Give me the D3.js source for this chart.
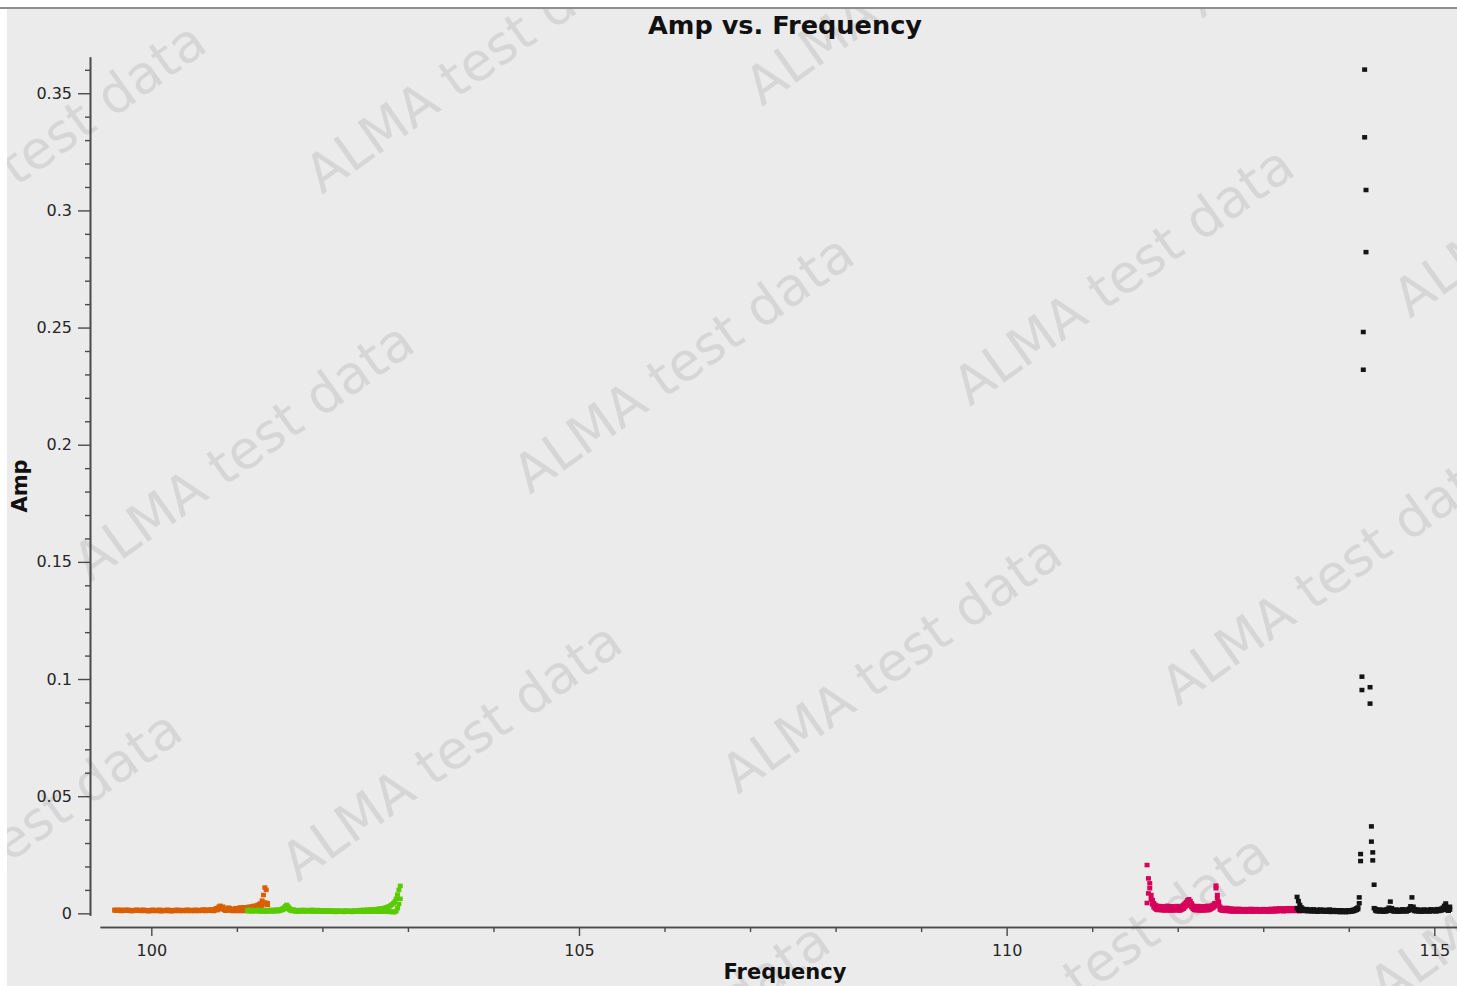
<!DOCTYPE html>
<html>
<head>
<meta charset="utf-8">
<script src="https://cdn.jsdelivr.net/npm/d3@7/dist/d3.min.js"></script>
<style>
  html, body { margin: 0; padding: 0; background: #ffffff; }
  svg { display: block; }
  text { font-family: "DejaVu Sans", sans-serif; }
</style>
</head>
<body>
<svg id="chart" width="1457" height="986"></svg>
<script>
// Amplitude vs. frequency, four spectral windows, two correlations each.
// Amplitudes are listed in units of 1e-3.
const ampScale = 1e-3;

const spwNames = ["0", "1", "2", "3"];
const spwColors = ["#d95f02", "#5acb00", "#d6005a", "#141414"];
const spwFirstChanGHz = [99.5733, 101.1248, 111.6416, 113.3955];
const chanWidthGHz = 0.0158;

const amp0XX = [
  1.5,1.3,1.4,1.2,1.5,1.4,1.1,1.3,1.5,1.4,
  1.2,1.4,1.3,1.0,1.2,1.4,1.5,1.3,1.2,1.4,
  1.3,1.5,1.4,1.2,1.3,1.1,1.3,1.4,1.5,1.3,
  1.2,1.4,1.3,1.5,1.2,1.3,1.4,1.2,1.3,1.5,
  1.4,1.2,1.1,1.3,1.4,1.3,1.5,1.4,1.2,1.3,
  1.4,1.3,1.2,1.4,1.5,1.3,1.4,1.2,1.3,1.4,
  1.5,1.3,1.2,1.4,1.3,1.5,1.6,1.4,1.3,1.5,
  1.4,1.6,1.5,1.3,1.7,2.2,2.0,2.8,3.2,2.6,
  2.8,2.0,1.4,1.8,2.4,2.2,1.6,1.3,1.8,2.1,
  2.2,1.9,2.3,2.5,2.2,2.4,2.6,2.3,2.5,2.7,
  2.8,2.6,3.0,3.2,2.9,3.3,3.6,3.9,4.3,5.4,
  7.8,11.0,10.0,4.3
];
const amp0YY = [
  1.2,1.4,1.1,1.3,1.2,1.0,1.3,1.2,1.1,1.3,
  1.4,1.1,1.0,1.2,1.3,1.1,1.2,1.4,1.1,1.2,
  1.0,1.2,1.1,1.3,1.0,0.9,1.1,1.2,1.0,1.2,
  1.1,1.0,1.2,1.1,0.9,1.0,1.2,1.1,1.0,1.2,
  1.1,1.0,0.9,1.1,1.2,1.0,1.1,1.2,1.0,1.1,
  1.0,1.2,1.1,1.0,1.2,1.1,1.0,1.1,1.2,1.0,
  1.1,1.2,1.0,1.1,1.3,1.1,1.2,1.0,1.1,1.2,
  1.1,1.3,1.2,1.0,1.3,1.5,1.4,1.9,2.2,1.8,
  2.0,1.5,1.1,1.3,1.6,1.5,1.2,1.0,1.1,1.2,
  1.0,1.1,1.2,1.0,1.1,1.2,1.0,1.1,1.3,1.2,
  1.4,1.3,1.6,1.8,1.7,2.0,2.2,2.5,2.8,3.4,
  4.3,4.6,4.4,3.6
];

const amp1XX = [
  1.4,1.2,1.5,1.3,1.1,1.4,1.2,1.3,1.5,1.2,
  1.0,1.3,1.1,1.4,1.2,1.0,1.3,1.5,1.2,1.1,
  1.3,1.6,1.4,1.2,1.5,1.7,2.0,2.4,3.0,3.6,
  2.9,2.2,1.7,1.4,1.6,1.3,1.1,1.4,1.2,1.0,
  1.3,1.5,1.2,1.0,1.3,1.4,1.1,1.2,1.5,1.3,
  1.0,1.2,1.4,1.1,0.9,1.2,1.3,1.0,1.1,1.3,
  1.2,0.9,1.0,1.2,1.1,0.8,1.0,1.2,0.9,1.1,
  1.0,0.8,1.1,1.2,0.9,1.0,1.1,0.8,1.0,1.2,
  1.1,0.9,1.2,1.4,1.1,1.3,1.5,1.2,1.4,1.6,
  1.3,1.5,1.7,1.4,1.6,1.8,1.7,1.9,2.0,1.9,
  2.1,2.2,2.4,2.6,2.8,3.0,3.4,3.8,4.3,5.0,
  6.2,8.0,10.0,11.7
];
const amp1YY = [
  1.0,0.9,1.1,0.8,1.0,1.2,0.9,1.0,1.1,0.8,
  0.9,1.1,0.8,1.0,0.9,0.8,1.0,1.1,0.9,0.8,
  1.0,1.1,0.9,1.0,1.2,1.3,1.5,1.8,2.2,2.5,
  2.1,1.6,1.2,1.0,1.1,0.9,0.8,1.0,0.9,0.8,
  1.0,1.1,0.9,0.8,1.0,1.1,0.9,0.8,1.0,0.9,
  0.8,0.9,1.0,0.8,0.7,0.9,1.0,0.8,0.7,0.9,
  0.8,0.7,0.8,0.9,0.7,0.6,0.8,0.9,0.7,0.8,
  0.7,0.6,0.8,0.9,0.7,0.8,0.7,0.6,0.8,0.9,
  0.8,0.7,0.9,1.0,0.8,0.9,0.7,0.8,1.0,0.9,
  0.8,0.7,0.9,0.8,1.0,0.9,0.8,0.7,0.9,0.8,
  0.8,0.9,0.7,0.8,1.0,0.6,0.8,0.6,0.5,0.6,
  1.0,2.2,4.0,6.2
];

const amp2XX = [
  20.6,14.9,12.8,7.8,5.7,4.3,3.6,3.2,2.9,3.1,
  2.7,3.0,2.8,2.5,2.9,3.2,2.8,2.6,3.0,2.7,
  2.4,2.8,3.1,2.7,2.5,2.9,3.2,3.6,4.2,4.8,
  5.6,6.0,5.2,4.2,3.3,2.8,2.5,2.9,3.1,2.7,
  2.4,2.8,3.0,2.6,2.9,3.2,2.8,3.0,3.3,3.6,
  4.3,11.8,7.8,5.0,2.8,2.3,2.1,2.2,2.0,2.3,
  2.1,1.9,2.0,1.7,1.9,1.8,1.6,1.8,1.9,1.7,
  1.6,1.8,1.7,1.5,1.8,1.6,1.7,1.9,1.6,1.5,
  1.7,1.8,1.6,1.5,1.7,1.6,1.8,1.7,1.5,1.6,
  1.8,1.7,1.9,1.6,1.8,2.0,1.7,1.9,2.1,1.8,
  2.0,1.9,2.1,1.8,2.0,2.2,1.9,2.1,2.0,2.2,
  1.9,2.1,2.0,1.8
];
const amp2YY = [
  4.4,8.5,10.7,6.0,3.8,2.6,2.0,1.6,1.4,1.7,
  1.5,1.3,1.6,1.2,1.4,1.7,1.3,1.2,1.5,1.4,
  1.2,1.5,1.6,1.3,1.2,1.4,1.7,2.0,2.6,3.2,
  3.8,4.2,3.5,2.6,1.9,1.5,1.3,1.6,1.4,1.2,
  1.3,1.5,1.2,1.4,1.6,1.3,1.5,1.8,2.1,2.5,
  3.0,10.7,6.4,3.6,1.6,1.3,1.1,1.2,1.0,1.2,
  1.1,0.9,1.0,0.8,1.0,0.9,0.8,1.0,0.9,0.8,
  0.9,1.0,0.8,0.7,0.9,0.8,1.0,0.9,0.7,0.8,
  0.9,1.0,0.8,0.9,0.7,0.8,1.0,0.9,0.8,0.7,
  0.9,0.8,1.0,0.9,0.8,1.1,0.9,1.0,1.2,1.0,
  1.1,0.9,1.2,1.0,1.1,1.3,1.0,1.2,1.1,1.3,
  1.0,1.2,1.1,0.9
];

// Channels 52 and 53 of spw 3 are flagged (null).
const amp3XX = [
  7.0,5.2,3.6,2.6,2.0,1.7,1.5,1.8,1.4,1.6,
  1.3,1.5,1.7,1.4,1.2,1.5,1.3,1.6,1.4,1.2,
  1.5,1.3,1.1,1.4,1.6,1.3,1.2,1.4,1.1,1.3,
  1.2,1.0,1.3,1.1,0.9,1.2,1.0,1.1,1.3,1.0,
  1.2,1.4,1.5,1.8,2.1,2.5,6.8,25.3,101.0,248.1,
  360.1,308.7,null,null,96.5,37.1,26.0,12.2,1.9,1.5,
  1.3,1.6,1.4,1.2,1.5,1.3,1.6,1.8,2.4,5.0,
  2.2,1.5,1.3,1.6,1.4,1.2,1.5,1.3,1.7,1.4,
  1.6,1.3,1.5,2.0,3.0,6.8,2.8,1.8,1.4,1.6,
  1.3,1.5,1.2,1.4,1.6,1.3,1.5,1.2,1.4,1.7,
  1.5,1.3,1.6,1.4,1.8,1.5,1.7,2.0,2.4,3.2,
  4.2,2.6,1.9,2.8
];
const amp3YY = [
  2.2,1.4,1.2,1.5,1.1,1.3,1.0,1.2,0.9,1.1,
  1.0,0.8,1.1,0.9,1.0,0.7,0.9,1.1,0.8,1.0,
  0.9,0.7,1.0,0.8,0.9,0.6,0.8,0.7,0.9,0.6,
  0.8,0.7,0.5,0.8,0.6,0.7,0.5,0.8,0.6,0.7,
  0.8,0.9,1.0,1.2,1.5,1.8,4.3,22.3,95.3,232.0,
  331.2,282.2,null,null,89.5,30.6,22.6,2.2,1.2,0.9,
  1.0,0.8,1.1,0.9,0.7,1.0,0.8,1.1,1.3,2.0,
  1.2,0.9,0.8,1.0,0.9,0.7,1.0,0.8,1.1,0.9,
  1.0,0.8,1.1,1.3,1.6,2.4,1.5,1.0,0.9,1.1,
  0.8,1.0,0.7,0.9,1.1,0.8,1.0,0.9,0.8,1.1,
  0.9,1.0,1.2,0.8,1.1,1.0,1.2,1.3,1.5,1.8,
  2.0,1.4,1.1,1.6
];

const spwAmps = [[amp0XX, amp0YY], [amp1XX, amp1YY], [amp2XX, amp2YY], [amp3XX, amp3YY]];

const yMajorTicks = [0, 0.05, 0.1, 0.15, 0.2, 0.25, 0.3, 0.35];
const yMinorTicks = [0.01,0.02,0.03,0.04,0.06,0.07,0.08,0.09,0.11,0.12,0.13,0.14,
                     0.16,0.17,0.18,0.19,0.21,0.22,0.23,0.24,0.26,0.27,0.28,0.29,
                     0.31,0.32,0.33,0.34,0.36];
const xMajorTicks = [100, 105, 110, 115];
const xMinorTicks = [101,102,103,104,106,107,108,109,111,112,113,114];

const titleText = "Amp vs. Frequency";
const xLabelText = "Frequency";
const yLabelText = "Amp";
const watermarkText = "ALMA test data";

// ---- drawing ----
const W = 1457, H = 986;
const svg = d3.select("#chart");

const x = d3.scaleLinear().domain([99.40, 115.27]).range([100, 1457.4]);
const y = d3.scaleLinear().domain([-0.0008, 0.3656]).range([915.2, 56.7]);

// panel background and top rule
const panel = { x: 7, y: 8, w: W - 7, h: H - 8 };
svg.append("rect").attr("x", panel.x).attr("y", panel.y)
  .attr("width", panel.w).attr("height", panel.h).attr("fill", "#ebebeb");
svg.append("line").attr("x1", 0).attr("x2", W).attr("y1", 8).attr("y2", 8)
  .attr("stroke", "#8e8e8e").attr("stroke-width", 2);

svg.append("clipPath").attr("id", "panelClip").append("rect")
  .attr("x", panel.x).attr("y", panel.y + 1).attr("width", panel.w).attr("height", panel.h);

// repeating watermark lattice
const wm = svg.append("g").attr("clip-path", "url(#panelClip)");
const wmOrigin = [694, 378], wmA = [440, -88], wmB = [208, 300];
for (let i = -4; i <= 4; i++) {
  for (let j = -4; j <= 4; j++) {
    const cx = wmOrigin[0] + i * wmA[0] + j * wmB[0];
    const cy = wmOrigin[1] + i * wmA[1] + j * wmB[1];
    if (cx < -300 || cx > W + 300 || cy < -250 || cy > H + 250) continue;
    wm.append("text")
      .attr("transform", `translate(${cx},${cy}) rotate(-35.5)`)
      .attr("text-anchor", "middle")
      .attr("font-size", 53)
      .attr("fill", "#d6d6d6")
      .text(watermarkText);
  }
}

// axes
const axisColor = "#4a4a4a";
function styleAxis(g) {
  g.selectAll("path.domain").attr("stroke", axisColor).attr("stroke-width", 1.6);
  g.selectAll(".tick line").attr("stroke", axisColor).attr("stroke-width", 1.4);
  g.selectAll(".tick text").attr("fill", "#262626")
    .attr("font-size", 16).attr("font-family", "DejaVu Sans, sans-serif");
}

const yAxisX = 90, xAxisY = 927;

svg.append("g").attr("transform", `translate(${yAxisX},0)`)
  .call(d3.axisLeft(y).tickValues(yMinorTicks).tickSize(5).tickSizeOuter(0).tickFormat(""))
  .call(styleAxis);
svg.append("g").attr("transform", `translate(${yAxisX},0)`)
  .call(d3.axisLeft(y).tickValues(yMajorTicks).tickSize(12).tickSizeOuter(0)
        .tickPadding(6).tickFormat(d3.format("~g")))
  .call(styleAxis);

svg.append("g").attr("transform", `translate(0,${xAxisY})`)
  .call(d3.axisBottom(x).tickValues(xMinorTicks).tickSize(5).tickSizeOuter(0).tickFormat(""))
  .call(styleAxis);
svg.append("g").attr("transform", `translate(0,${xAxisY})`)
  .call(d3.axisBottom(x).tickValues(xMajorTicks).tickSize(9).tickSizeOuter(0)
        .tickPadding(9).tickFormat(d3.format("d")))
  .call(styleAxis);

// titles
svg.append("text").attr("x", 785).attr("y", 34).attr("text-anchor", "middle")
  .attr("font-weight", "bold").attr("font-size", 25.6).attr("fill", "#111").text(titleText);
svg.append("text").attr("x", 785).attr("y", 979).attr("text-anchor", "middle")
  .attr("font-weight", "bold").attr("font-size", 21).attr("fill", "#111").text(xLabelText);
svg.append("text").attr("transform", "translate(27,486) rotate(-90)").attr("text-anchor", "middle")
  .attr("font-weight", "bold").attr("font-size", 21).attr("fill", "#111").text(yLabelText);

// data points: one small square per channel per correlation
const points = [];
spwAmps.forEach((corrs, s) => {
  corrs.forEach(arr => {
    arr.forEach((a, ch) => {
      if (a === null) return;
      points.push({ spw: s, f: spwFirstChanGHz[s] + ch * chanWidthGHz, amp: a * ampScale });
    });
  });
});

const mw = 5, mh = 4.5;
svg.append("g").selectAll("rect").data(points).join("rect")
  .attr("x", d => x(d.f) - mw / 2)
  .attr("y", d => y(d.amp) - mh / 2)
  .attr("width", mw).attr("height", mh)
  .attr("fill", d => spwColors[d.spw]);
</script>
</body>
</html>
